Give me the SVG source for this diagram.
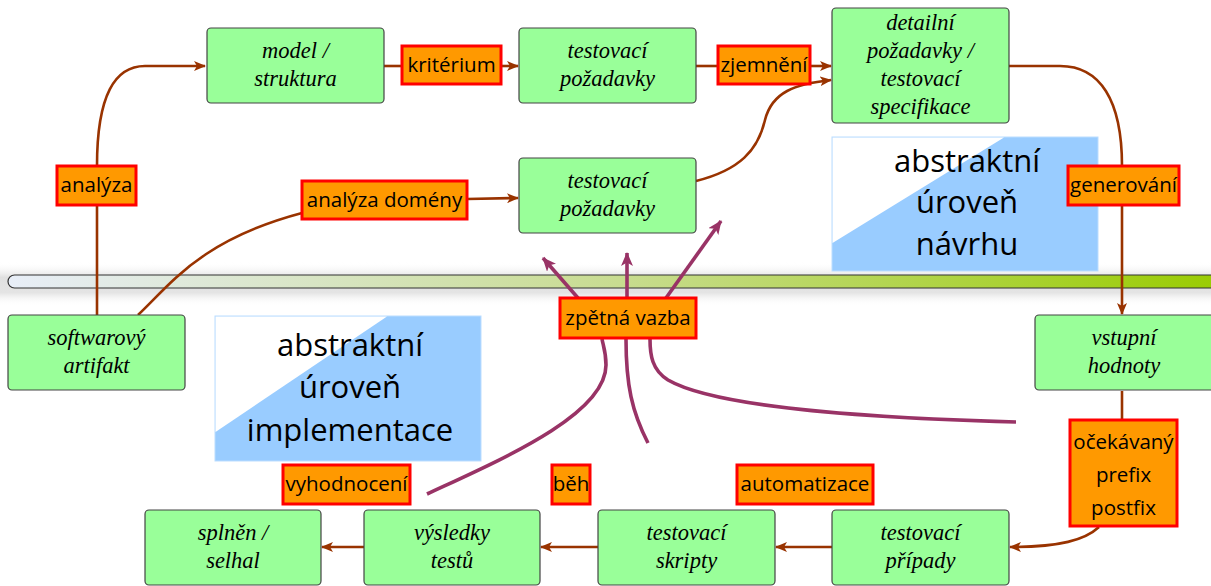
<svg xmlns="http://www.w3.org/2000/svg" width="1211" height="586" viewBox="0 0 1211 586">
<style>
.node rect{fill:#99FF99;stroke:#444;stroke-width:1.2}
.node text{font-family:"Liberation Serif","DejaVu Serif",serif;font-style:italic;font-size:22.5px;fill:#000;text-anchor:middle}
.lbl rect{fill:#FF9900;stroke:#FF0000;stroke-width:3}
.lbl text{font-family:"Open Sans","Noto Sans",sans-serif;font-size:20.5px;fill:#000;text-anchor:middle}
.area text{font-family:"Open Sans","Noto Sans",sans-serif;font-size:31px;fill:#000;text-anchor:middle}
.area rect{fill:#99CCFF;stroke:#BBDDFF;stroke-width:1}
.area polygon{fill:#FFFFFF}
.c{fill:none;stroke:#993300;stroke-width:2.6}
.f{fill:none;stroke:#993366;stroke-width:3.6}
</style>
<defs>
<marker id="ab" viewBox="0 0 12 10" refX="11" refY="5" markerWidth="12" markerHeight="10" markerUnits="userSpaceOnUse" orient="auto">
<path d="M0,0 L12,5 L0,10 L3,5 Z" fill="#993300"/>
</marker>
<marker id="ap" viewBox="0 0 14 12" refX="13" refY="6" markerWidth="14" markerHeight="12" markerUnits="userSpaceOnUse" orient="auto">
<path d="M0,0 L14,6 L0,12 L3.5,6 Z" fill="#993366"/>
</marker>
<linearGradient id="bar" x1="0" y1="0" x2="1" y2="0">
<stop offset="0" stop-color="#E8EEF8"/>
<stop offset="0.5" stop-color="#C8DC90"/>
<stop offset="1" stop-color="#99CC00"/>
</linearGradient>
<linearGradient id="shadow" x1="0" y1="0" x2="0" y2="1">
<stop offset="0" stop-color="#FFFFFF" stop-opacity="0"/>
<stop offset="0.35" stop-color="#E0E0E0"/>
<stop offset="0.7" stop-color="#E4E4E4"/>
<stop offset="1" stop-color="#FFFFFF" stop-opacity="0"/>
</linearGradient>
</defs>

<g id="divider">
<rect x="0" y="262" width="1211" height="44" fill="url(#shadow)"/>
<rect x="8" y="275" width="1220" height="13" rx="6.5" fill="url(#bar)" stroke="#333" stroke-width="1.2"/>
</g>

<g id="area-navrh" class="area">
<rect x="832" y="137" width="266" height="134"/>
<polygon points="832.5,137.5 1004,137.5 832.5,243"/>
<text x="967" y="172">abstraktní</text>
<text x="967" y="213">úroveň</text>
<text x="967" y="255">návrhu</text>
</g>
<g id="area-impl" class="area">
<rect x="215" y="316" width="266" height="145"/>
<polygon points="215.5,316.5 387,316.5 215.5,432"/>
<text x="350" y="356">abstraktní</text>
<text x="350" y="398">úroveň</text>
<text x="350" y="441">implementace</text>
</g>

<g id="connectors">
<path class="c" d="M97,315 L97,205"/>
<path class="c" d="M97,166 C97,95 115,66 145,66 L205,66" marker-end="url(#ab)"/>
<path class="c" d="M384,66 L402,66"/>
<path class="c" d="M501,66 L518,66" marker-end="url(#ab)"/>
<path class="c" d="M696,66 L718,66"/>
<path class="c" d="M810,66 L831,66" marker-end="url(#ab)"/>
<path class="c" d="M696,181 C740,170 758,150 765,120 C772,92 795,84 831,80" marker-end="url(#ab)"/>
<path class="c" d="M138,315 C170,285 200,240 302,213"/>
<path class="c" d="M467,199 L518,198" marker-end="url(#ab)"/>
<path class="c" d="M1009,66 L1060,66 C1100,66 1122,100 1122,166"/>
<path class="c" d="M1122,206 L1122,314" marker-end="url(#ab)"/>
<path class="c" d="M1122,391 L1122,420"/>
<path class="c" d="M1099,527 C1085,540 1060,547 1010,547" marker-end="url(#ab)"/>
<path class="c" d="M832,547 L776,547" marker-end="url(#ab)"/>
<path class="c" d="M598,547 L541,547" marker-end="url(#ab)"/>
<path class="c" d="M364,547 L322,547" marker-end="url(#ab)"/>
<path class="f" d="M578,298 L543,258" marker-end="url(#ap)"/>
<path class="f" d="M627,298 L627,253" marker-end="url(#ap)"/>
<path class="f" d="M666,298 L721,221" marker-end="url(#ap)"/>
<path class="f" d="M427,494 C500,460 606,415 606,365 C606,352 603,345 602,339"/>
<path class="f" d="M648,443 C632,412 626,385 626,339"/>
<path class="f" d="M1016,422 C900,419 720,410 668,380 C652,370 650,355 650,339"/>
</g>

<g id="model" class="node"><rect x="207" y="28" width="177" height="75" rx="4"/><text x="295.5" y="58">model /</text><text x="295.5" y="86">struktura</text></g>
<g id="poz1" class="node"><rect x="519" y="28" width="177" height="75" rx="4"/><text x="607.5" y="58">testovací</text><text x="607.5" y="86">požadavky</text></g>
<g id="detail" class="node"><rect x="832" y="8" width="177" height="115" rx="4"/><text x="920.5" y="30">detailní</text><text x="920.5" y="58">požadavky /</text><text x="920.5" y="86">testovací</text><text x="920.5" y="114">specifikace</text></g>
<g id="poz2" class="node"><rect x="519" y="158" width="177" height="75" rx="4"/><text x="607.5" y="188">testovací</text><text x="607.5" y="216">požadavky</text></g>
<g id="artifakt" class="node"><rect x="8" y="315" width="177" height="75" rx="4"/><text x="96.5" y="345">softwarový</text><text x="96.5" y="373">artifakt</text></g>
<g id="vstupni" class="node"><rect x="1035" y="315" width="180" height="75" rx="4"/><text x="1124" y="345">vstupní</text><text x="1124" y="373">hodnoty</text></g>
<g id="splnen" class="node"><rect x="145" y="510" width="176" height="75" rx="4"/><text x="233" y="540">splněn /</text><text x="233" y="568">selhal</text></g>
<g id="vysledky" class="node"><rect x="364" y="510" width="176" height="75" rx="4"/><text x="452" y="540">výsledky</text><text x="452" y="568">testů</text></g>
<g id="skripty" class="node"><rect x="598" y="510" width="177" height="75" rx="4"/><text x="686.5" y="540">testovací</text><text x="686.5" y="568">skripty</text></g>
<g id="pripady" class="node"><rect x="832" y="510" width="177" height="75" rx="4"/><text x="920.5" y="540">testovací</text><text x="920.5" y="568">případy</text></g>

<g id="l-kriterium" class="lbl"><rect x="402" y="46" width="99" height="38"/><text x="451.5" y="72">kritérium</text></g>
<g id="l-zjemneni" class="lbl"><rect x="718" y="46" width="92" height="38"/><text x="764" y="72">zjemnění</text></g>
<g id="l-analyza" class="lbl"><rect x="57" y="166" width="79" height="39"/><text x="96.5" y="192">analýza</text></g>
<g id="l-domeny" class="lbl"><rect x="302" y="181" width="165" height="38"/><text x="384.5" y="207">analýza domény</text></g>
<g id="l-generovani" class="lbl"><rect x="1068" y="166" width="111" height="39"/><text x="1123.5" y="192">generování</text></g>
<g id="l-zpetna" class="lbl"><rect x="560" y="298" width="136" height="40"/><text x="628" y="325">zpětná vazba</text></g>
<g id="l-vyhodnoceni" class="lbl"><rect x="283" y="465" width="127" height="39"/><text x="346.5" y="491">vyhodnocení</text></g>
<g id="l-beh" class="lbl"><rect x="552" y="465" width="38" height="39"/><text x="571" y="491">běh</text></g>
<g id="l-automatizace" class="lbl"><rect x="737" y="465" width="136" height="39"/><text x="805" y="491">automatizace</text></g>
<g id="l-ocekavany" class="lbl"><rect x="1070" y="420" width="107" height="106"/><text x="1123.5" y="449">očekávaný</text><text x="1123.5" y="482">prefix</text><text x="1123.5" y="515">postfix</text></g>
</svg>
